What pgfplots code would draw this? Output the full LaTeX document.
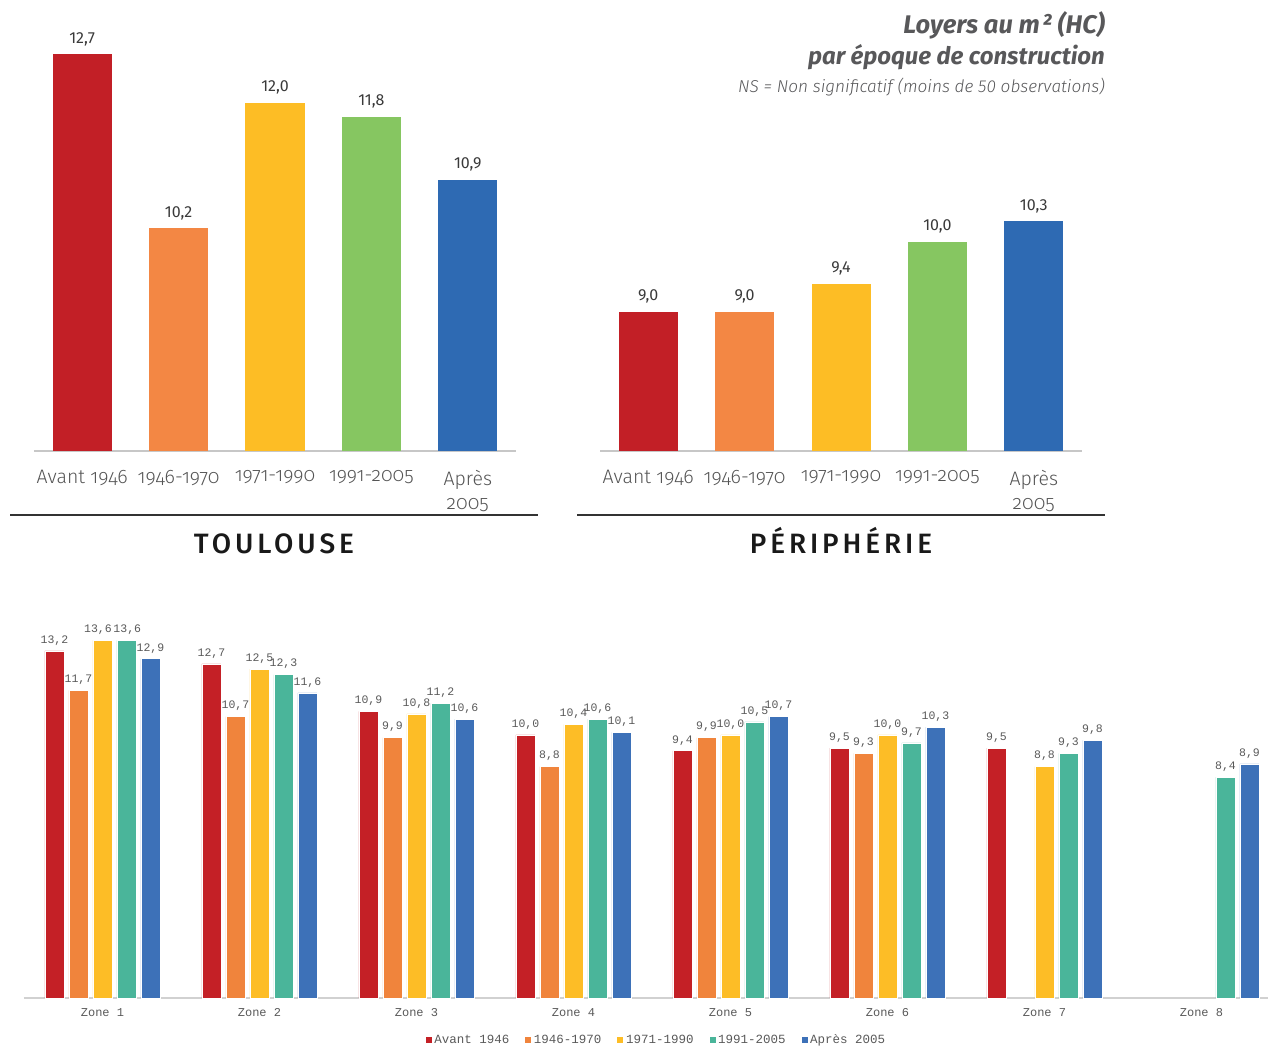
\documentclass[border=0pt]{standalone}
\usepackage{pgfplots}
\pgfplotsset{compat=1.18}
\usepackage{fontspec}
\setmainfont{Liberation Sans}
\newfontfamily\fira{Fira Sans}
\newfontfamily\firalight{Fira Sans Light}[Numbers=OldStyle]
\newfontfamily\firalightlin{Fira Sans Light}
\newfontfamily\firamed{Fira Sans Medium}[LetterSpace=14]
\newfontfamily\mono{Liberation Mono}

\definecolor{tred}{HTML}{C21F26}
\definecolor{tor}{HTML}{F38744}
\definecolor{tye}{HTML}{FDBD25}
\definecolor{tgr}{HTML}{86C661}
\definecolor{tbl}{HTML}{2E6AB3}
\definecolor{bred}{HTML}{C42026}
\definecolor{bor}{HTML}{F0843C}
\definecolor{bye}{HTML}{FDBD26}
\definecolor{bte}{HTML}{4AB59A}
\definecolor{bbl}{HTML}{3D71B8}
\definecolor{labgray}{HTML}{555555}
\definecolor{valgray}{HTML}{3A3A3A}
\definecolor{titgray}{HTML}{58585A}
\definecolor{monogray}{HTML}{595959}

\pgfplotsset{
 topbar/.style={
  scale only axis, width=482pt, height=417.6pt,
  xmin=0.5, xmax=5.5, ymin=7, ymax=13,
  axis x line*=bottom, axis y line=none,
  x axis line style={draw=black!22, line width=1.5pt, -},
  xtick={1,2,3,4,5},
  xticklabels={Avant 1946,1946-1970,1971-1990,1991-2005,Après\\2005},
  major tick length=0pt,
  xticklabel style={font=\firalight\fontsize{19.5}{24}\selectfont, text=labgray, align=center, yshift=-16pt},
  ytick=\empty,
  clip=false,
  ybar, bar width=59pt,
  nodes near coords,
  every node near coord/.append style={font=\fira\fontsize{16}{18}\selectfont, text=valgray, yshift=5pt},
  /pgf/number format/.cd, use comma, fixed, fixed zerofill, precision=1, assume math mode=true,
 }
}

\begin{document}
\begin{tikzpicture}
\path[use as bounding box] (0,0) rectangle (1269pt,1046pt);

% Titles
\node[anchor=base east, inner sep=0pt, text=titgray, font=\fira\bfseries\itshape\fontsize{25.5}{28}\selectfont] at (1105pt,1012pt) {Loyers au m\kern2pt² (HC)};
\node[anchor=base east, inner sep=0pt, text=titgray, font=\fira\bfseries\itshape\fontsize{24}{28}\selectfont] at (1105pt,981pt) {par époque de construction};
\node[anchor=base east, inner sep=0pt, text=titgray, font=\firalightlin\itshape\fontsize{17.2}{19}\selectfont] at (1105pt,953pt) {NS = Non significatif (moins de 50 observations)};

% Toulouse
\begin{axis}[topbar, at={(34pt,595pt)}, anchor=south west]
\addplot[fill=tred, draw=none, bar shift=0pt] coordinates {(1,12.7)};
\addplot[fill=tor, draw=none, bar shift=0pt] coordinates {(2,10.2)};
\addplot[fill=tye, draw=none, bar shift=0pt] coordinates {(3,12.0)};
\addplot[fill=tgr, draw=none, bar shift=0pt] coordinates {(4,11.8)};
\addplot[fill=tbl, draw=none, bar shift=0pt] coordinates {(5,10.9)};
\end{axis}

% Peripherie
\begin{axis}[topbar, at={(600pt,595pt)}, anchor=south west]
\addplot[fill=tred, draw=none, bar shift=0pt] coordinates {(1,9.0)};
\addplot[fill=tor, draw=none, bar shift=0pt] coordinates {(2,9.0)};
\addplot[fill=tye, draw=none, bar shift=0pt] coordinates {(3,9.4)};
\addplot[fill=tgr, draw=none, bar shift=0pt] coordinates {(4,10.0)};
\addplot[fill=tbl, draw=none, bar shift=0pt] coordinates {(5,10.3)};
\end{axis}

\draw[line width=1.5pt, black!80] (10pt,531pt) -- (538pt,531pt);
\draw[line width=1.5pt, black!80] (577pt,531pt) -- (1105pt,531pt);
\node[anchor=base, inner sep=0pt, text=black!90, font=\firamed\fontsize{28}{32}\selectfont] at (274pt,492pt) {TOULOUSE};
\node[anchor=base, inner sep=0pt, text=black!90, font=\firamed\fontsize{28}{32}\selectfont] at (841pt,492pt) {PÉRIPHÉRIE};

% Zones
\begin{axis}[at={(24pt,48pt)}, anchor=south west, scale only axis,
  width=1244pt, height=381.35pt,
  xmin=0.5, xmax=8.424, ymin=0, ymax=14.5,
  axis x line*=bottom, axis y line=none,
  x axis line style={draw=black!18, line width=1.5pt, -},
  xtick={1,2,3,4,5,6,7,8},
  xticklabels={Zone 1,Zone 2,Zone 3,Zone 4,Zone 5,Zone 6,Zone 7,Zone 8},
  major tick length=0pt,
  xticklabel style={font=\mono\fontsize{12}{14}\selectfont, text=monogray, yshift=-7pt},
  ytick=\empty, clip=false,
  ybar=5pt, bar width=19pt,
  nodes near coords,
  every node near coord/.append style={font=\mono\fontsize{11.5}{13}\selectfont, text=monogray, yshift=2pt},
  legend columns=5,
  legend style={at={(0.508,0)}, anchor=center, yshift=-42pt, draw=none, fill=none,
    font=\mono\fontsize{12.5}{14}\selectfont, text=monogray,
    /tikz/every even column/.append style={column sep=13pt}},
  every axis plot/.append style={legend image code/.code={\fill[##1] (0pt,-3.5pt) rectangle (7pt,3.5pt);}},
  /pgf/number format/.cd, use comma, fixed, fixed zerofill, precision=1, assume math mode=true,
]
\addplot[fill=bred, draw=white, line width=0.6pt] coordinates {(1,13.2)(2,12.7)(3,10.9)(4,10.0)(5,9.4)(6,9.5)(7,9.5)};
\addplot[fill=bor, draw=white, line width=0.6pt] coordinates {(1,11.7)(2,10.7)(3,9.9)(4,8.8)(5,9.9)(6,9.3)};
\addplot[fill=bye, draw=white, line width=0.6pt, coordinate style/.condition={\coordindex==0}{xshift=-4.5pt}] coordinates {(1,13.6)(2,12.5)(3,10.8)(4,10.4)(5,10.0)(6,10.0)(7,8.8)};
\addplot[fill=bte, draw=white, line width=0.6pt, coordinate style/.condition={\coordindex==0}{xshift=0.8pt}] coordinates {(1,13.6)(2,12.3)(3,11.2)(4,10.6)(5,10.5)(6,9.7)(7,9.3)(8,8.4)};
\addplot[fill=bbl, draw=white, line width=0.6pt] coordinates {(1,12.9)(2,11.6)(3,10.6)(4,10.1)(5,10.7)(6,10.3)(7,9.8)(8,8.9)};
\legend{Avant 1946,1946-1970,1971-1990,1991-2005,Après 2005}
\end{axis}
\end{tikzpicture}
\end{document}
